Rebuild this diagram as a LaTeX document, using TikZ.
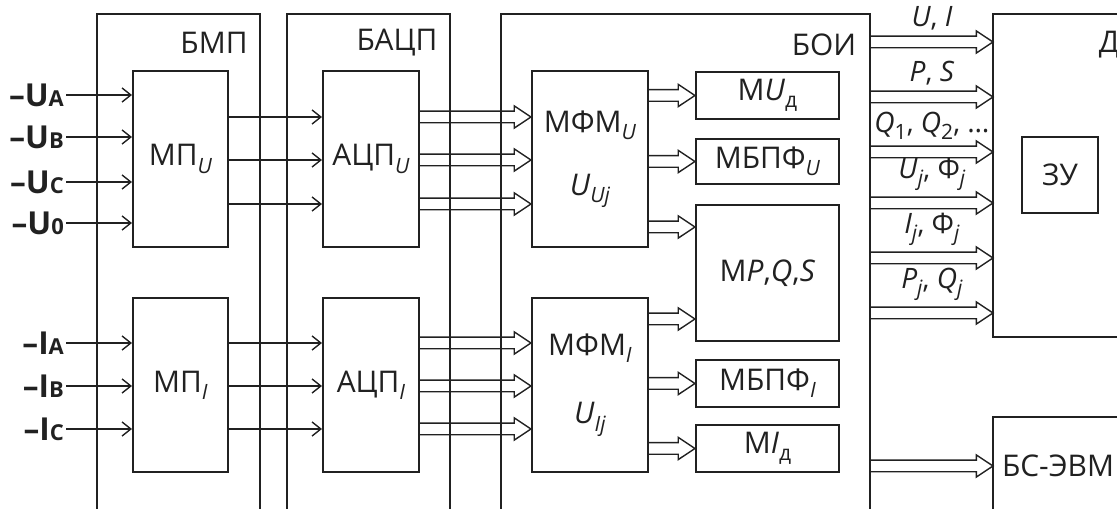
\documentclass[tikz,border=0pt]{standalone}
\usepackage{fontspec}
\setmainfont{Open Sans}
\usetikzlibrary{arrows.meta,calc}
\definecolor{LineClr}{rgb}{0.13,0.13,0.13}
\newcommand\SubTx[1]{\raisebox{-0.45ex}{\fontsize{12}{14}\selectfont #1}}
\newcommand\InTx[2]{\textbf{–#1{\fontsize{12.5}{14}\selectfont #2}}}

\begin{document}
\begin{tikzpicture}[x=0.02cm,y=-0.02cm,
  every node/.style={font=\fontsize{17}{20}\selectfont,text=LineClr},
  FrameLn/.style={draw=LineClr,line width=1.4pt},
  ModBox/.style={draw=LineClr,line width=1.2pt,inner sep=0pt,align=center},
  InArrow/.style={draw=LineClr,line width=0.8pt,-{Straight Barb[length=5pt,width=8pt]}},
  BusArrow/.style={draw=LineClr,line width=0.8pt,
    to path={let \p1=(\tikztostart),\p2=(\tikztotarget) in
      (\x1,\y1+3.3pt) -- (\x2-9.5pt,\y1+3.3pt) -- (\x2-9.5pt,\y1+6.3pt) -- (\x2,\y1)
      -- (\x2-9.5pt,\y1-6.3pt) -- (\x2-9.5pt,\y1-3.3pt) -- (\x1,\y1-3.3pt)}},
  BusLbl/.style={anchor=south,inner sep=0pt,font=\fontsize{16}{19}\selectfont}]
\useasboundingbox (0,0) rectangle (1117,509);

\draw[FrameLn] (97,515) -- (97,14) -- (260,14) -- (260,515);
\draw[FrameLn] (287,515) -- (287,14) -- (450,14) -- (450,515);
\draw[FrameLn] (501,515) -- (501,14) -- (870,14) -- (870,515);
\draw[FrameLn] (1125,14) -- (993,14) -- (993,337) -- (1125,337);
\draw[FrameLn] (1125,417) -- (993,417) -- (993,515);
\coordinate (boiE) at (870,14);
\coordinate (dW) at (993,14);

\node (bmp) at (214,43) {БМП};
\node (bacp) at (397,43) {БАЦП};
\node (boi) at (824,45) {БОИ};
\node (dd) at (1109,45) {Д};
\node (bsevm) at (1058,466) {БС-ЭВМ};

\node[ModBox,minimum width=1.9cm,minimum height=3.52cm] (mpu) at (180.5,159) {МП\SubTx{\textit{U}}};
\node[ModBox,minimum width=1.9cm,minimum height=3.48cm] (mpi) at (180.5,385) {МП\SubTx{\textit{I}}};
\node[ModBox,minimum width=1.92cm,minimum height=3.52cm] (acpu) at (371,159) {АЦП\SubTx{\textit{U}}};
\node[ModBox,minimum width=1.92cm,minimum height=3.48cm] (acpi) at (371,385) {АЦП\SubTx{\textit{I}}};
\node[ModBox,minimum width=2.32cm,minimum height=3.52cm] (mfmu) at (590,159)
  {МФМ\SubTx{\textit{U}}\\[16pt]\textit{U}\SubTx{\textit{Uj}}};
\node[ModBox,minimum width=2.32cm,minimum height=3.48cm] (mfmi) at (590,385)
  {МФМ\SubTx{\textit{I}}\\[19pt]\textit{U}\SubTx{\textit{Ij}}};
\node[ModBox,minimum width=2.86cm,minimum height=0.94cm] (mud) at (767.5,95.5) {М\textit{U}\SubTx{д}};
\node[ModBox,minimum width=2.86cm,minimum height=0.9cm] (mbpfu) at (767.5,161.5) {МБПФ\SubTx{\textit{U}}};
\node[ModBox,minimum width=2.86cm,minimum height=2.72cm] (mpqs) at (767.5,273) {М\textit{P},\textit{Q},\textit{S}};
\node[ModBox,minimum width=2.86cm,minimum height=0.94cm] (mbpfi) at (767.5,383.5) {МБПФ\SubTx{\textit{I}}};
\node[ModBox,minimum width=2.86cm,minimum height=0.94cm] (mid) at (767.5,448.5) {М\textit{I}\SubTx{д}};
\node[ModBox,minimum width=1.52cm,minimum height=1.52cm] (zu) at (1060,175) {ЗУ};

\foreach \nm/\y/\ltr in {ua/95/A,ub/137/B,uc/182/C,uz/223/0}{
  \node[anchor=east,inner sep=1pt,font=\fontsize{18}{21}\selectfont] (\nm) at (66,\y) {\InTx{U}{\ltr}};
  \draw[InArrow] (\nm) -- (\nm -| mpu.west);
}
\foreach \k/\y in {1/117,2/160,3/204} \coordinate (LvU\k) at (0,\y);
\foreach \k/\y/\ltr in {1/343/A,2/386/B,3/429/C}{
  \coordinate (LvI\k) at (0,\y);
  \node[anchor=east,inner sep=1pt,font=\fontsize{18}{21}\selectfont] (in\k) at (66,\y) {\InTx{I}{\ltr}};
  \draw[InArrow] (in\k) -- (in\k -| mpi.west);
}
\foreach \k in {1,2,3}{
  \draw[InArrow] (mpu.east |- LvU\k) -- (acpu.west |- LvU\k);
  \draw[BusArrow] (acpu.east |- LvU\k) to (mfmu.west |- LvU\k);
  \draw[InArrow] (mpi.east |- LvI\k) -- (acpi.west |- LvI\k);
  \draw[BusArrow] (acpi.east |- LvI\k) to (mfmi.west |- LvI\k);
}

\coordinate (LvP1) at (0,227);
\coordinate (LvP2) at (0,319);
\draw[BusArrow] (mfmu.east |- mud.west) to (mud.west);
\draw[BusArrow] (mfmu.east |- mbpfu.west) to (mbpfu.west);
\draw[BusArrow] (mfmu.east |- LvP1) to (mpqs.west |- LvP1);
\draw[BusArrow] (mfmi.east |- LvP2) to (mpqs.west |- LvP2);
\draw[BusArrow] (mfmi.east |- mbpfi.west) to (mbpfi.west);
\draw[BusArrow] (mfmi.east |- mid.west) to (mid.west);

\foreach \k/\y/\txt in {1/42/{\textit{U}, \textit{I}},
    2/97/{\textit{P}, \textit{S}},
    3/152/{\textit{Q}\SubTx{1}, \textit{Q}\SubTx{2}, …},
    4/203/{\textit{U}\SubTx{\textit{j}}, Φ\SubTx{\textit{j}}},
    5/258/{\textit{I}\SubTx{\textit{j}}, Φ\SubTx{\textit{j}}},
    6/313/{\textit{P}\SubTx{\textit{j}}, \textit{Q}\SubTx{\textit{j}}}}{
  \coordinate (LvR\k) at (0,\y);
  \draw[BusArrow] (boiE |- LvR\k) to (dW |- LvR\k);
  \node[BusLbl] (rl\k) at (932,\y-12) {\txt};
}
\draw[BusArrow] (boiE |- bsevm) to (dW |- bsevm);

\end{tikzpicture}
\end{document}
